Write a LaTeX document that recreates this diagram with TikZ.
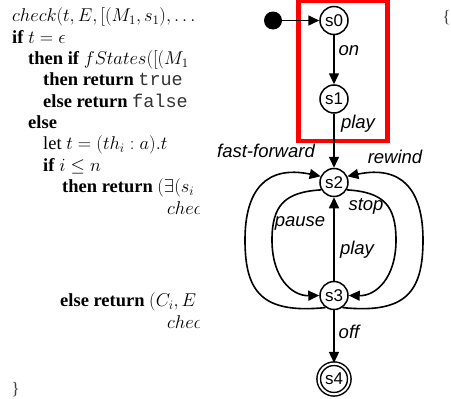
\documentclass[tikz,border=0pt]{standalone}
\usepackage{fix-cm}
\usepackage{fontspec}
\setmainfont{Liberation Serif}
\setsansfont{Liberation Sans}
\setmonofont{Liberation Mono}
\usetikzlibrary{arrows.meta}
\definecolor{boxred}{RGB}{255,0,0}
\begin{document}
\begin{tikzpicture}[x=1pt,y=-1pt,
  state/.style={circle, draw, line width=1.5pt, minimum size=28pt, inner sep=0pt,
    font=\fontsize{17}{17}\selectfont\sffamily},
  lab/.style={anchor=base, inner sep=0pt, font=\fontsize{18.5}{18.5}\selectfont\sffamily\itshape},
  conn/.style={line width=1.6pt, -{Triangle[length=11pt,width=10pt]}},
  code/.style={anchor=base west, inner sep=0pt, font=\fontsize{18.5}{21}\selectfont},
  brace/.style={anchor=base, inner sep=0pt, text=black!75, font=\fontsize{17.5}{21}\selectfont}
]
\useasboundingbox (0,0) rectangle (451,399);

% ---- code listing (clipped) ----
\begin{scope}
\clip (0,0) rectangle (199,399);
\node[code] (c1)  at (12,21.5)  {$check(t, E, [(M_1, s_1), \ldots$};
\node[code] (c2)  at (12,43)    {\textbf{if} $t = \epsilon$};
\node[code] (c3)  at (28,64.3)  {\textbf{then if} $fStates([(M_1$};
\node[code] (c4)  at (43,85.6)  {\textbf{then return} {\color{black!80}\texttt{true}}};
\node[code] (c5)  at (43,107)   {\textbf{else return} {\color{black!80}\texttt{false}}};
\node[code] (c6)  at (28,128.3) {\textbf{else}};
\node[code] (c7)  at (43,149.6) {let $t = (th_i : a).t$};
\node[code] (c8)  at (43,171)   {\textbf{if} $i \leq n$};
\node[code] (c9)  at (62,192.3) {\textbf{then return} $(\exists(s_i$};
\node[code] (c10) at (167,214)  {$check$};
\node[code] (c11) at (60,306.7) {\textbf{else return} $(C_i, E$};
\node[code] (c12) at (167,328)  {$check$};
\end{scope}
\node[brace] (rb) at (15.5,394) {\}};
\node[brace] (lb) at (446.5,22) {\{};

% ---- red highlight box ----
\draw[boxred, line width=4.5pt] (298.5,0.5) rectangle (387.5,141);

% ---- states ----
\node[circle, fill, minimum size=18pt, inner sep=0pt] (init) at (273,20.5) {};
\node[state] (s0) at (334,20.5) {s0};
\node[state] (s1) at (334,99) {s1};
\node[state] (s2) at (334,182.5) {s2};
\node[state] (s3) at (334,295.5) {s3};
\node[state, double, double distance=2pt, minimum size=30.6pt] (s4) at (334,379) {s4};

% ---- straight transitions ----
\draw[conn] (init) -- (s0);
\draw[conn] (s0) -- (s1);
\draw[conn] (s1) -- (s2);
\draw[conn] (s3) -- (s2);
\draw[conn] (s3) -- (s4);

% ---- curved transitions ----
% fast-forward: s3 -> s2 (outer left)
\draw[conn] (s3.235) .. controls (262,314) and (245,292) .. (245,240)
   .. controls (245,190) and (266,165) .. (s2.155);
% pause: s2 -> s3 (inner left)
\draw[conn] (s2.210) .. controls (285,192) and (272,205) .. (272,240)
   .. controls (272,278) and (292,296) .. (s3.180);
% stop: s2 -> s3 (inner right)
\draw[conn] (s2.330) .. controls (383,192) and (396,205) .. (396,240)
   .. controls (396,278) and (376,296) .. (s3.0);
% rewind: s3 -> s2 (outer right)
\draw[conn] (s3.305) .. controls (406,314) and (423,292) .. (423,240)
   .. controls (423,190) and (402,165) .. (s2.25);

% ---- labels ----
\node[lab] (lon)   at (349,55)  {on};
\node[lab] (lplay) at (358,128) {play};
\node[lab] (lff)   at (266,157) {fast-forward};
\node[lab] (lrw)   at (395,163) {rewind};
\node[lab] (lstop) at (366,210) {stop};
\node[lab] (lpa)   at (300,226.5) {pause};
\node[lab] (lpl2)  at (357,254) {play};
\node[lab] (loff)  at (349,338) {off};
\end{tikzpicture}
\end{document}
